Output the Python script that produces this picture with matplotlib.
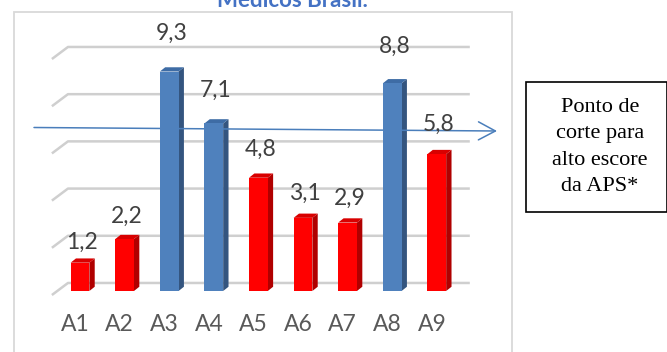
import matplotlib
matplotlib.use('Agg')
import matplotlib.pyplot as plt
from matplotlib.patches import Rectangle, Polygon

# data
categories = ['A1', 'A2', 'A3', 'A4', 'A5', 'A6', 'A7', 'A8', 'A9']
values = [1.2, 2.2, 9.3, 7.1, 4.8, 3.1, 2.9, 8.8, 5.8]
high = [False, False, True, True, False, False, False, True, False]
grid_ticks = [0, 2, 4, 6, 8, 10]
title = 'Médicos Brasil.'
note_lines = ['Ponto de', 'corte para', 'alto escore', 'da APS*']

W, H = 667, 352
fig = plt.figure(figsize=(W / 100, H / 100), dpi=100)

# axes placed so that x index -> bar front, y value -> bar height
ax = fig.add_axes([35.4 / W, (H - 326.4) / H, 446 / W, 295 / H])
ax.set_xlim(-1, 9)
ax.set_ylim(-1.5, 11)
ax.axis('off')

# chart frame
fig.patches.append(Rectangle((14 / W, -0.1), 498 / W, 1 - 12 / H + 0.1,
                             transform=fig.transFigure, fill=False,
                             edgecolor='#D9D9D9', lw=1.3))

# 3D-ish back gridlines
off = 0.34
for t in grid_ticks:
    ax.plot([-0.63, -0.27, 8.74], [t - 0.17, t + off, t + off],
            color='#CFCFCF', lw=1.8, solid_capstyle='butt', zorder=1)

w, dx, dy = 0.42, 0.12, 0.18
colors = {True: ('#4F81BD', '#34557F', '#3E6CA5'),
          False: ('#FF0000', '#B00000', '#D80000')}
for i, (v, hi) in enumerate(zip(values, high)):
    front, side, top = colors[hi]
    l, r = i - w / 2, i + w / 2
    ax.add_patch(Polygon([(r, 0), (r + dx, dy), (r + dx, v + dy), (r, v)],
                         closed=True, facecolor=side, edgecolor='none', zorder=3))
    ax.add_patch(Polygon([(l, v), (l + dx, v + dy), (r + dx, v + dy), (r, v)],
                         closed=True, facecolor=top, edgecolor='none', zorder=3))
    ax.add_patch(Rectangle((l, 0), w, v, facecolor=front, edgecolor='none', zorder=4))
    ax.text(i + 0.05, v * 1.093 + 0.74, f'{v:.1f}'.replace('.', ','),
            ha='center', va='center', fontsize=16.5, color='#404040',
            family='Lato', zorder=5)
    ax.text(i - 0.11, -1.44, categories[i], ha='center', va='center',
            fontsize=16.5, color='#595959', family='Lato', clip_on=False)

fig.text(292 / W, 1 - 7 / H, title, ha='center', va='baseline',
         fontsize=16, fontweight='bold', color='#4472C4', family='Lato')

# cut-off arrow
ax.annotate('', xy=(497 / W, 1 - 131 / H), xytext=(34 / W, 1 - 127.5 / H),
            xycoords='figure fraction', textcoords='figure fraction',
            arrowprops=dict(arrowstyle='->,head_length=1.22,head_width=0.65',
                            color='#4A7EBB', lw=1.1, shrinkA=0, shrinkB=0))

# note box
fig.patches.append(Rectangle((525.5 / W, 1 - 212 / H), 141 / W, 130 / H,
                             transform=fig.transFigure, fill=False,
                             edgecolor='black', lw=1.2))
for k, line in enumerate(note_lines):
    fig.text(600 / W, 1 - (112 + 26.3 * k) / H, line, ha='center', va='baseline',
             fontsize=16, family='Liberation Serif', color='black')

fig.savefig('out.png', dpi=100)
